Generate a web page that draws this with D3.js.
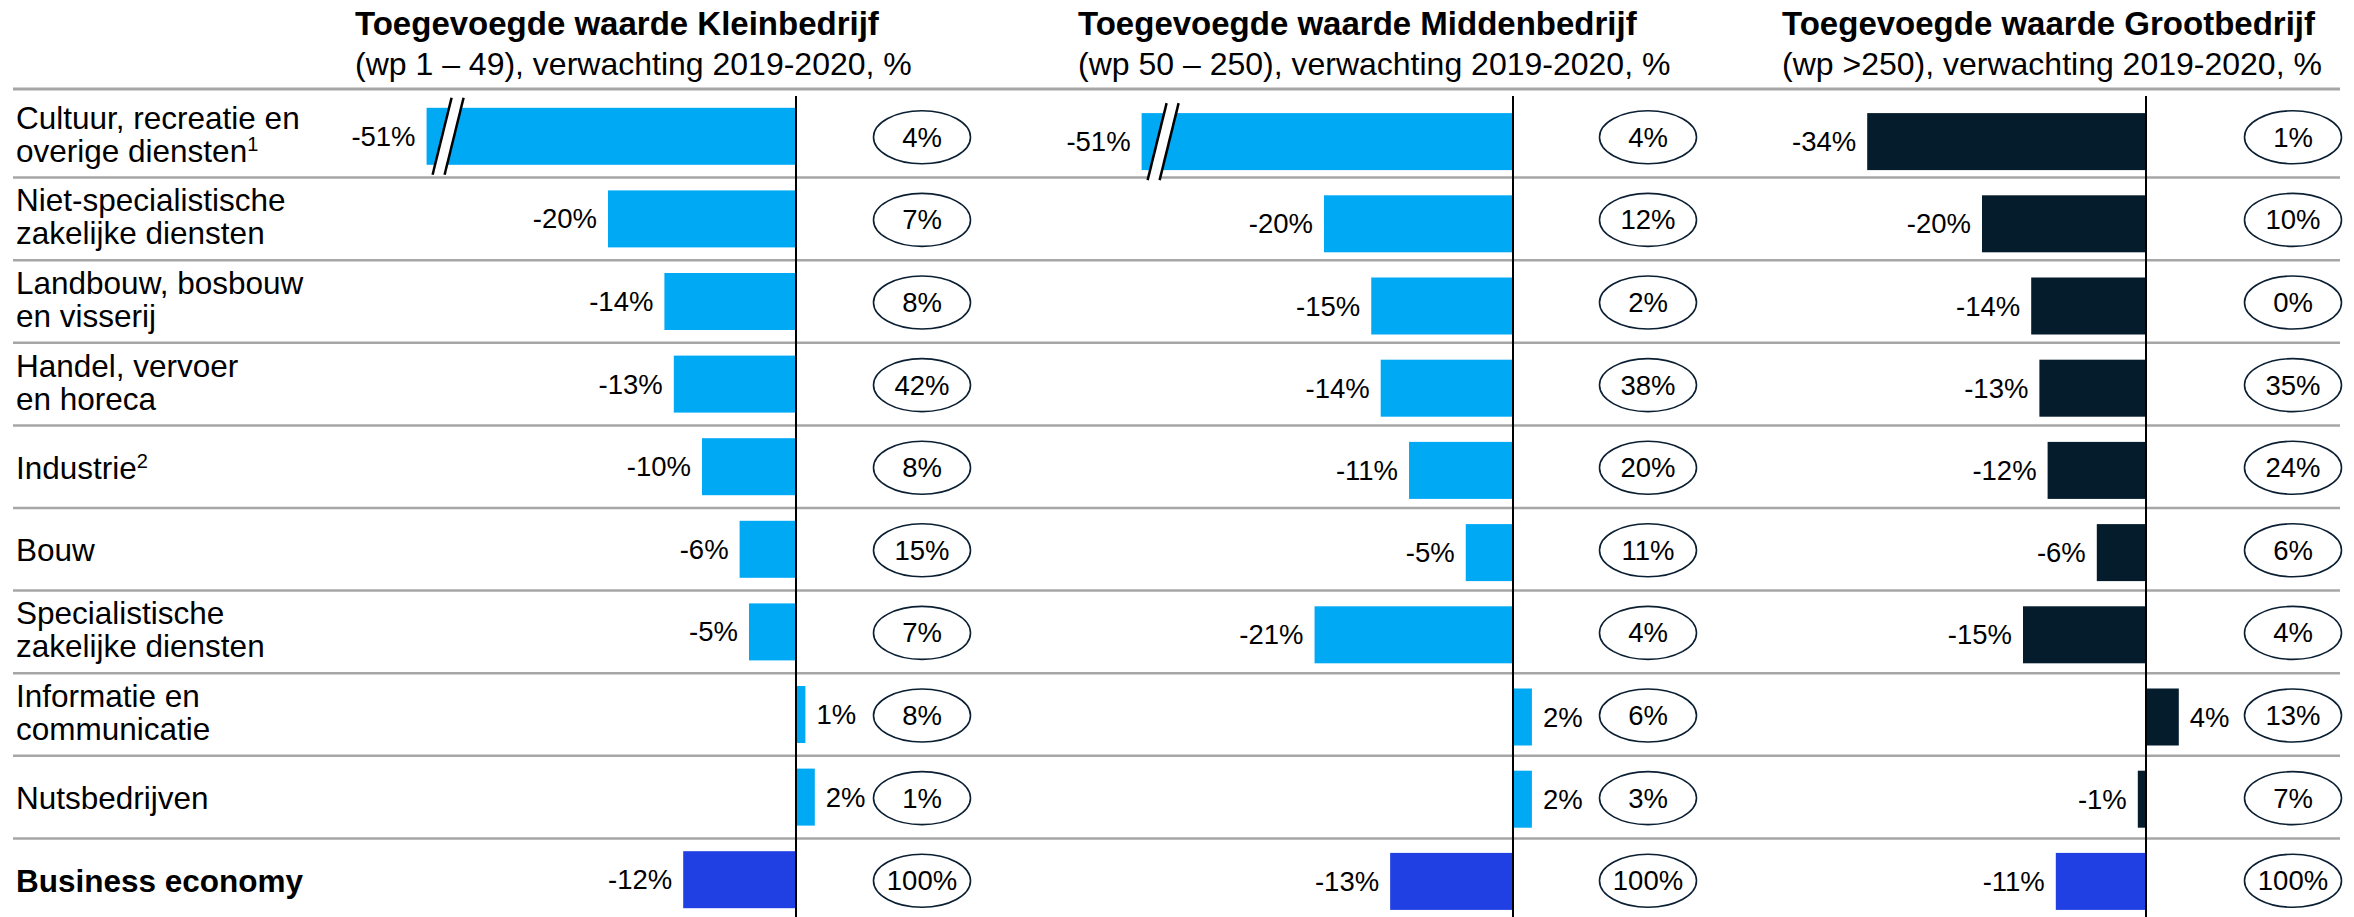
<!DOCTYPE html>
<html>
<head>
<meta charset="utf-8">
<script src="https://cdn.jsdelivr.net/npm/d3@7"></script>
<style>
  html, body { margin: 0; padding: 0; background: #fff; }
  svg { display: block; font-family: "Liberation Sans", Arial, sans-serif; }
</style>
</head>
<body>
<script>
// data
const categories = [
  ["Cultuur, recreatie en", "overige diensten"],
  ["Niet-specialistische", "zakelijke diensten"],
  ["Landbouw, bosbouw", "en visserij"],
  ["Handel, vervoer", "en horeca"],
  ["Industrie"],
  ["Bouw"],
  ["Specialistische", "zakelijke diensten"],
  ["Informatie en", "communicatie"],
  ["Nutsbedrijven"],
  ["Business economy"]
];
const footnotes = ["1", "", "", "", "2", "", "", "", "", ""];

const panelTitles = [
  "Toegevoegde waarde Kleinbedrijf",
  "Toegevoegde waarde Middenbedrijf",
  "Toegevoegde waarde Grootbedrijf"
];
const panelSubtitles = [
  "(wp 1 \u2013 49), verwachting 2019-2020, %",
  "(wp 50 \u2013 250), verwachting 2019-2020, %",
  "(wp >250), verwachting 2019-2020, %"
];

// growth of value added 2019-2020, %
const growthKlein  = [-51, -20, -14, -13, -10, -6, -5, 1, 2, -12];
const growthMidden = [-51, -20, -15, -14, -11, -5, -21, 2, 2, -13];
const growthGroot  = [-34, -20, -14, -13, -12, -6, -15, 4, -1, -11];

// share of value added, %
const shareKlein  = [4, 7, 8, 42, 8, 15, 7, 8, 1, 100];
const shareMidden = [4, 12, 2, 38, 20, 11, 4, 6, 3, 100];
const shareGroot  = [1, 10, 0, 35, 24, 6, 4, 13, 7, 100];

// layout
const width = 2354, height = 917;
const lightBlue = "#00A9F4", navy = "#051C2C", totalBlue = "#2140E3";
const ellipseStroke = "#0B1F33";
const sepColor = "#a6a6a6";

const panels = [
  {title: panelTitles[0], subtitle: panelSubtitles[0], growth: growthKlein, share: shareKlein,
   zero: 796, pxPerPct: 9.4, ellipseX: 922, titleX: 355, color: lightBlue, breakAt: -39.3, barRange: [95, 921]},
  {title: panelTitles[1], subtitle: panelSubtitles[1], growth: growthMidden, share: shareMidden,
   zero: 1513, pxPerPct: 9.45, ellipseX: 1648, titleX: 1078, color: lightBlue, breakAt: -39.3, barRange: [100.5, 922.5]},
  {title: panelTitles[2], subtitle: panelSubtitles[2], growth: growthGroot, share: shareGroot,
   zero: 2146, pxPerPct: 8.2, ellipseX: 2293, titleX: 1782, color: navy, breakAt: null, barRange: [100.5, 922.5]}
];

const svg = d3.select("body").append("svg")
  .attr("width", width)
  .attr("height", height);

const rows = d3.range(categories.length);
const y = d3.scaleBand().domain(rows).range([95, 921]);
const bw = y.bandwidth();
const barH = 57;

// separators
svg.append("line")
  .attr("x1", 13).attr("x2", 2340)
  .attr("y1", 89).attr("y2", 89)
  .attr("stroke", sepColor).attr("stroke-width", 3);

svg.selectAll(".sep")
  .data(rows.slice(0, -1))
  .enter().append("line")
  .attr("class", "sep")
  .attr("x1", 13).attr("x2", 2340)
  .attr("y1", d => y(d) + bw)
  .attr("y2", d => y(d) + bw)
  .attr("stroke", sepColor).attr("stroke-width", 2.5);

// row labels
const labels = svg.selectAll(".rowlabel")
  .data(rows)
  .enter().append("text")
  .attr("class", "rowlabel")
  .attr("x", 16)
  .attr("font-size", 31.5)
  .attr("font-weight", d => d === rows.length - 1 ? "bold" : "normal")
  .attr("fill", "#000");

labels.each(function(d) {
  const lines = categories[d];
  const cy = y(d) + bw / 2;
  const t = d3.select(this);
  lines.forEach((line, j) => {
    const base = lines.length === 1 ? cy + 12 : cy - 7.5 + j * 33;
    t.append("tspan")
      .attr("x", 16)
      .attr("y", base)
      .text(line);
  });
  if (footnotes[d]) {
    t.append("tspan")
      .attr("dy", -11)
      .attr("font-size", 20)
      .text(footnotes[d]);
  }
});

// panels
panels.forEach((p, pi) => {
  const g = svg.append("g").attr("class", "panel");

  const x = d3.scaleLinear()
    .domain([-40, 0])
    .range([p.zero - 40 * p.pxPerPct, p.zero]);

  const yb = d3.scaleBand().domain(rows).range(p.barRange);
  const cyBar = i => yb(i) + yb.bandwidth() / 2;
  const shown = v => (p.breakAt !== null && v < p.breakAt) ? p.breakAt : v;

  // titles
  g.append("text")
    .attr("x", p.titleX).attr("y", 35)
    .attr("font-size", 33).attr("font-weight", "bold")
    .text(p.title);
  g.append("text")
    .attr("x", p.titleX).attr("y", 75)
    .attr("font-size", 32)
    .text(p.subtitle);

  // bars
  g.selectAll(".bar")
    .data(rows)
    .enter().append("rect")
    .attr("class", "bar")
    .attr("x", i => x(Math.min(0, shown(p.growth[i]))))
    .attr("width", i => Math.abs(x(shown(p.growth[i])) - x(0)))
    .attr("y", i => cyBar(i) - barH / 2)
    .attr("height", barH)
    .attr("fill", i => i === rows.length - 1 ? totalBlue : p.color);

  // break marks on truncated bars
  rows.filter(i => p.breakAt !== null && p.growth[i] < p.breakAt).forEach(i => {
    const bl = x(p.breakAt);
    const top = cyBar(i) - barH / 2 - 10;
    const bot = cyBar(i) + barH / 2 + 10;
    g.append("polygon")
      .attr("points", [[bl + 25, top], [bl + 37, top], [bl + 18, bot], [bl + 6, bot]].join(" "))
      .attr("fill", "#fff");
    [[25, 6], [37, 18]].forEach(([a, b]) => {
      g.append("line")
        .attr("x1", bl + a).attr("y1", top)
        .attr("x2", bl + b).attr("y2", bot)
        .attr("stroke", "#000").attr("stroke-width", 2.5);
    });
  });

  // value labels
  g.selectAll(".val")
    .data(rows)
    .enter().append("text")
    .attr("class", "val")
    .attr("x", i => p.growth[i] < 0 ? x(shown(p.growth[i])) - 11 : x(p.growth[i]) + 11)
    .attr("y", i => cyBar(i) + 9.5)
    .attr("text-anchor", i => p.growth[i] < 0 ? "end" : "start")
    .attr("font-size", 27.5)
    .text(i => p.growth[i] + "%");

  // zero line
  g.append("line")
    .attr("x1", x(0)).attr("x2", x(0))
    .attr("y1", 96).attr("y2", height)
    .attr("stroke", "#000").attr("stroke-width", 2);

  // share ellipses
  g.selectAll(".share")
    .data(rows)
    .enter().append("ellipse")
    .attr("class", "share")
    .attr("cx", p.ellipseX)
    .attr("cy", i => y(i) + bw / 2 + 1)
    .attr("rx", 48.5).attr("ry", 26.5)
    .attr("fill", "none")
    .attr("stroke", ellipseStroke)
    .attr("stroke-width", 1.6);

  g.selectAll(".sharelabel")
    .data(rows)
    .enter().append("text")
    .attr("class", "sharelabel")
    .attr("x", p.ellipseX)
    .attr("y", i => y(i) + bw / 2 + 10.5)
    .attr("text-anchor", "middle")
    .attr("font-size", 27.5)
    .text(i => p.share[i] + "%");
});
</script>
</body>
</html>
